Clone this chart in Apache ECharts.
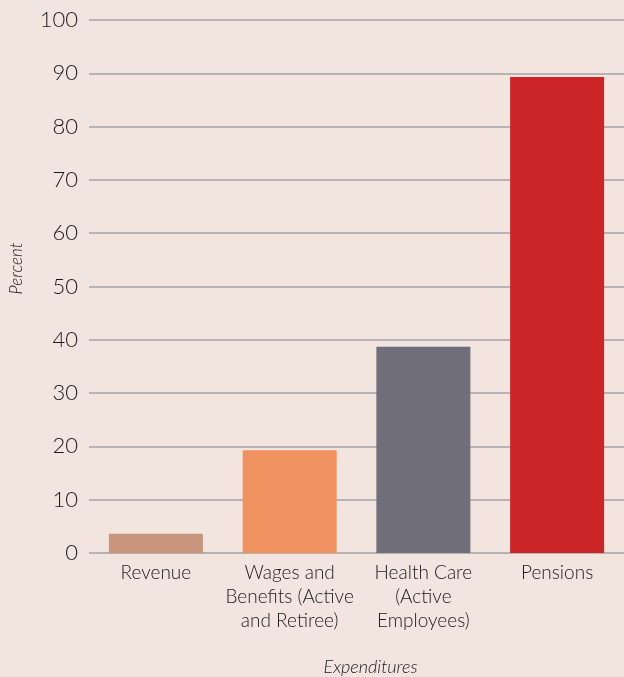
<!DOCTYPE html>
<html>
<head>
<meta charset="utf-8">
<script src="https://cdn.jsdelivr.net/npm/echarts@6/dist/echarts.min.js"></script>
<style>
  html, body { margin: 0; padding: 0; background: #f2e4de; }
  #main { width: 624px; height: 677px; }
</style>
</head>
<body>
<div id="main"></div>
<script>
var categories = ['Revenue', 'Wages and\nBenefits (Active\nand Retiree)', 'Health Care\n(Active\nEmployees)', 'Pensions'];
var values = [3.6, 19.3, 38.7, 89.3];
var barColors = ['#c9957e', '#ef9260', '#706e78', '#cb2527'];

var chart = echarts.init(document.getElementById('main'));

var option = {
  backgroundColor: '#f2e4de',
  animation: false,
  grid: { left: 89, right: 0, top: 20, bottom: 124, outerBoundsMode: 'none', containLabel: false },
  xAxis: {
    type: 'category',
    data: categories,
    name: 'Expenditures',
    nameLocation: 'middle',
    nameGap: 105,
    nameTextStyle: { fontFamily: 'Lato', fontStyle: 'italic', fontWeight: 300, fontSize: 18, color: '#1a1a1a', padding: [0, 0, 0, 28] },
    axisLine: { show: false },
    axisTick: { show: false },
    axisLabel: { fontFamily: 'Lato', fontWeight: 300, fontSize: 19, color: '#1a1a1a', lineHeight: 24, margin: 8, interval: 0 }
  },
  yAxis: {
    type: 'value',
    min: 0,
    max: 100,
    interval: 10,
    name: 'Percent',
    nameLocation: 'middle',
    nameGap: 64,
    nameTextStyle: { fontFamily: 'Lato', fontStyle: 'italic', fontWeight: 300, fontSize: 17, color: '#1a1a1a', padding: [0, 0, 0, 36] },
    axisLine: { show: false },
    axisTick: { show: false },
    axisLabel: { fontFamily: 'Lato', fontWeight: 300, fontSize: 22, color: '#1a1a1a', margin: 11 },
    splitLine: { lineStyle: { color: '#a3a3a3', width: 1.5 } }
  },
  series: [{
    type: 'bar',
    data: values,
    barWidth: 94,
    itemStyle: {
      color: function (p) { return barColors[p.dataIndex]; }
    }
  }]
};

chart.setOption(option);
</script>
</body>
</html>
